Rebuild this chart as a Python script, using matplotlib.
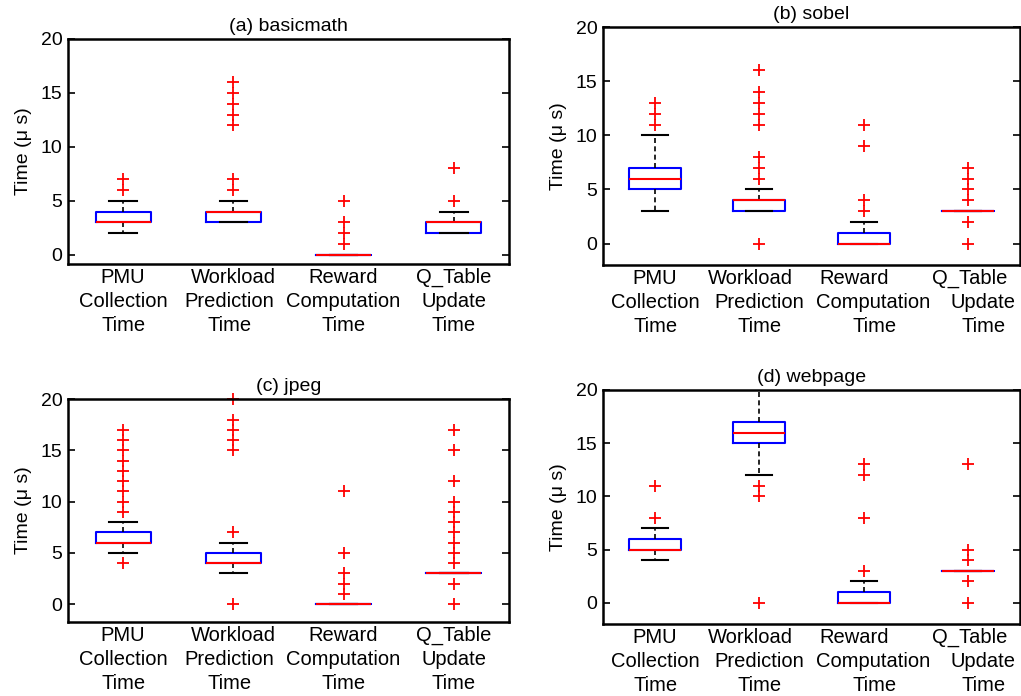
import matplotlib
matplotlib.use("Agg")
import matplotlib.pyplot as plt
import matplotlib.transforms as mtransforms

plt.rcParams['font.family'] = ['Liberation Sans', 'DejaVu Sans']

categories = ["PMU\nCollection\nTime", "Workload\nPrediction\nTime",
              "Reward\nComputation\nTime", "Q_Table\nUpdate\nTime"]
titles = ["(a) basicmath", "(b) sobel", "(c) jpeg", "(d) webpage"]

# box statistics per benchmark: one entry per category
basicmath_q1 = [3, 3, 0, 2]
basicmath_med = [3, 4, 0, 3]
basicmath_q3 = [4, 4, 0, 3]
basicmath_lo = [2, 3, 0, 2]
basicmath_hi = [5, 5, 0, 4]
basicmath_fliers = [[6, 7], [6, 7, 12, 13, 14, 15, 16], [1, 2, 3, 5], [5, 8]]

sobel_q1 = [5, 3, 0, 3]
sobel_med = [6, 4, 0, 3]
sobel_q3 = [7, 4, 1, 3]
sobel_lo = [3, 3, 0, 3]
sobel_hi = [10, 5, 2, 3]
sobel_fliers = [[11, 12, 13], [0, 6, 7, 8, 11, 12, 13, 14, 16],
                [3, 4, 9, 11], [0, 2, 4, 5, 6, 7]]

jpeg_q1 = [6, 4, 0, 3]
jpeg_med = [6, 4, 0, 3]
jpeg_q3 = [7, 5, 0, 3]
jpeg_lo = [5, 3, 0, 3]
jpeg_hi = [8, 6, 0, 3]
jpeg_fliers = [[4, 9, 10, 11, 12, 13, 14, 15, 16, 17],
               [0, 7, 15, 16, 17, 18, 20],
               [1, 2, 3, 5, 11],
               [0, 2, 4, 5, 6, 7, 8, 9, 10, 12, 15, 17]]

webpage_q1 = [5, 15, 0, 3]
webpage_med = [5, 16, 0, 3]
webpage_q3 = [6, 17, 1, 3]
webpage_lo = [4, 12, 0, 3]
webpage_hi = [7, 22, 2, 3]
webpage_fliers = [[8, 11], [0, 10, 11], [3, 8, 12, 13], [0, 2, 4, 5, 13]]

panels = [
    (basicmath_q1, basicmath_med, basicmath_q3, basicmath_lo, basicmath_hi, basicmath_fliers),
    (sobel_q1, sobel_med, sobel_q3, sobel_lo, sobel_hi, sobel_fliers),
    (jpeg_q1, jpeg_med, jpeg_q3, jpeg_lo, jpeg_hi, jpeg_fliers),
    (webpage_q1, webpage_med, webpage_q3, webpage_lo, webpage_hi, webpage_fliers),
]

# layout (figure fractions) and y-limits per panel
rects = [
    [0.0666, 0.6207, 0.4319, 0.3233],
    [0.5906, 0.6190, 0.4084, 0.3420],
    [0.0666, 0.1060, 0.4319, 0.3207],
    [0.5906, 0.1034, 0.4084, 0.3363],
]
ybottoms = [-0.85, -2.0, -1.75, -2.0]
# per-line x offsets (px) of the category labels, MATLAB placed them unevenly on the right
label_shift = [
    [[0, 0, 0], [0, -4, -4], [0, 0, 0], [0, 0, 0]],
    [[0, 0, 0], [-9, 0, 0], [-9, 10, 11], [2, 15, 16]],
    [[0, 0, 0], [0, -4, -4], [0, 0, 0], [0, 0, 0]],
    [[0, 0, 0], [-9, 0, 0], [-9, 10, 11], [2, 15, 16]],
]

fig = plt.figure(figsize=(10.21, 6.96), dpi=100)

for k, (q1, med, q3, lo, hi, fl) in enumerate(panels):
    ax = fig.add_axes(rects[k])
    stats = []
    for i in range(len(categories)):
        stats.append(dict(q1=q1[i], med=med[i], q3=q3[i],
                          whislo=lo[i], whishi=hi[i], fliers=fl[i]))
    ax.bxp(stats, positions=[1, 2, 3, 4], widths=0.5, showfliers=True,
           boxprops=dict(color='#0000ff', linewidth=1.5),
           medianprops=dict(color='#ff0000', linewidth=1.5),
           whiskerprops=dict(color='black', linestyle=(0, (3, 2)), linewidth=1.2),
           capprops=dict(color='black', linewidth=1.5),
           capwidths=0.25,
           flierprops=dict(marker='+', markeredgecolor='#ff0000', markersize=9,
                           markeredgewidth=1.3, linestyle='none', clip_on=False))
    ax.set_xlim(0.5, 4.5)
    ax.set_ylim(ybottoms[k], 20)
    ax.set_yticks([0, 5, 10, 15, 20])
    ax.tick_params(axis='y', direction='in', length=5, width=1.2,
                   labelsize=14, right=True, pad=4)
    ax.tick_params(axis='x', length=0, labelbottom=False)
    for s in ax.spines.values():
        s.set_linewidth(1.8)
    ax.set_ylabel("Time (\u03bc s)", fontsize=14, labelpad=6)
    ax.set_title(titles[k], fontsize=14, pad=6)

    trans = mtransforms.blended_transform_factory(ax.transData, ax.transAxes)
    for i, lab in enumerate(categories):
        for j, line in enumerate(lab.split("\n")):
            ax.annotate(line, xy=(i + 1, 0), xycoords=trans,
                        xytext=(label_shift[k][i][j] * 0.72, -4 * 0.72 - j * 24 * 0.72),
                        textcoords='offset points', ha='center', va='top',
                        fontsize=14.5, annotation_clip=False)

fig.savefig("out.png", dpi=100)
